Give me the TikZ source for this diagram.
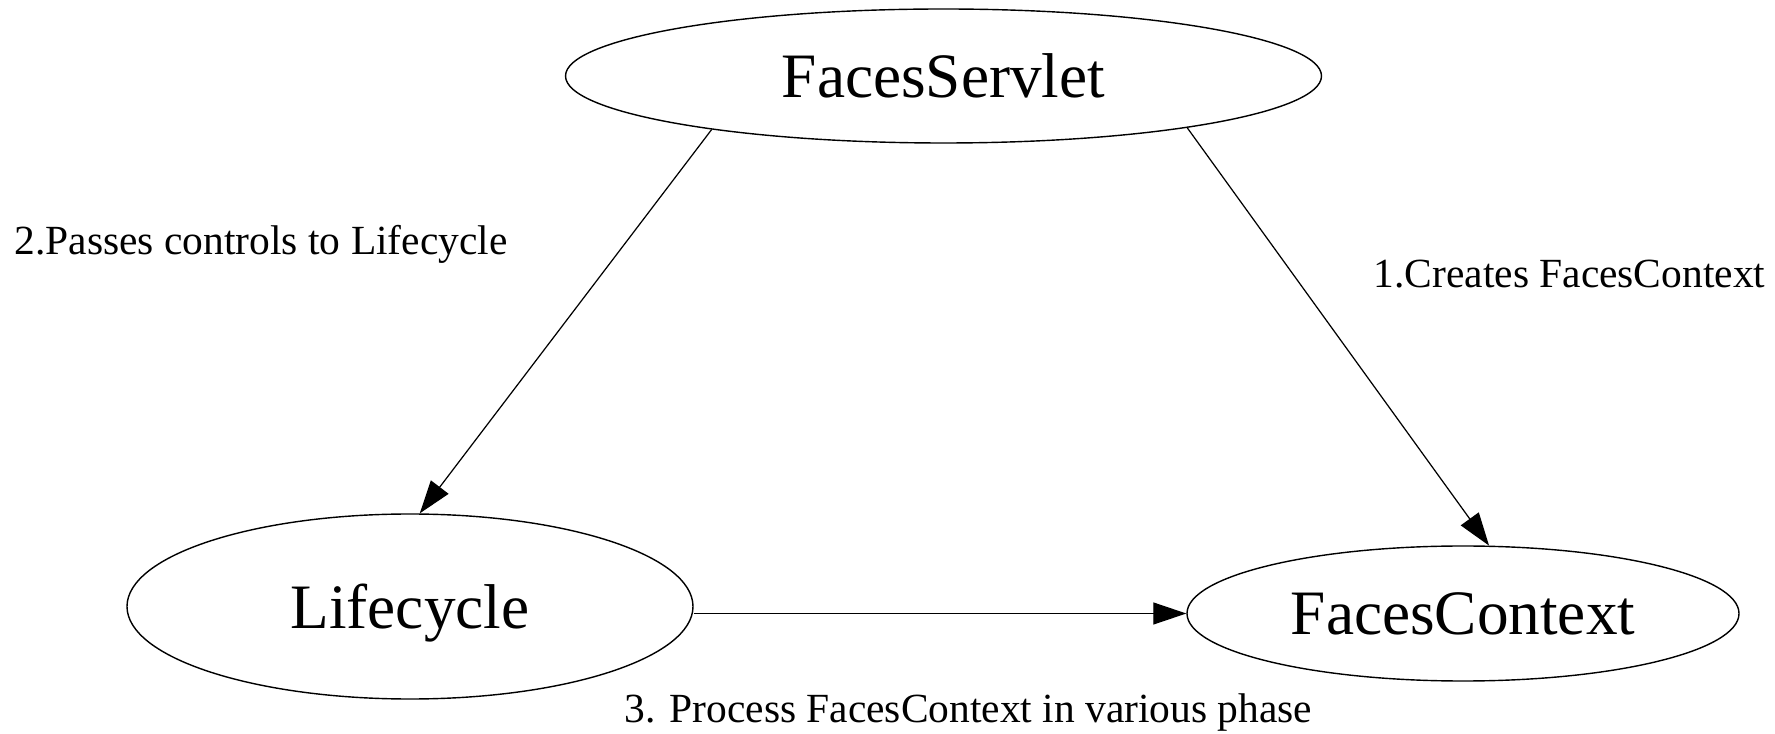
\documentclass[tikz,border=0pt]{standalone}
\usepackage{fontspec}
\setmainfont{Liberation Serif}
\usepackage{tikz}
\usetikzlibrary{arrows.meta,positioning,shapes.geometric}
\tikzset{
  facenode/.style={
    ellipse,
    draw=black,
    line width=0.4pt,
    inner sep=0pt,
    text depth=0pt,
    font=\fontsize{18}{20}\selectfont
  },
  facelabel/.style={
    inner sep=0pt,
    anchor=base west,
    font=\fontsize{11.8}{14}\selectfont
  },
  facearrow/.style={-{Triangle[length=3.3mm, width=2.2mm]}, line width=0.35pt, draw=black}
}
\begin{document}
\begin{tikzpicture}
\useasboundingbox (0,0) rectangle (17.75,7.33);
\node[facenode, minimum width=7.56cm, minimum height=1.34cm] (servlet) at (9.435,6.57) {FacesServlet};
\node[facenode, minimum width=5.66cm, minimum height=1.85cm] (lifecycle) at (4.10,1.265) {Lifecycle};
\node[facenode, minimum width=5.52cm, minimum height=1.35cm] (context) at (14.63,1.195) {FacesContext};
\node[facelabel] (passes) at (0.14,4.78) {2.Passes controls to Lifecycle};
\node[facelabel] (creates) at (13.73,4.45) {1.Creates FacesContext};
\node[facelabel] (process) at (6.24,0.10) {3. Process FacesContext in various phase};
\draw[facearrow] (servlet.193.4) -- (lifecycle.84);
\draw[facearrow] (servlet.348.3) -- (context.69);
\draw[facearrow] (lifecycle.east |- context.west) -- (context.west);
\end{tikzpicture}
\end{document}
